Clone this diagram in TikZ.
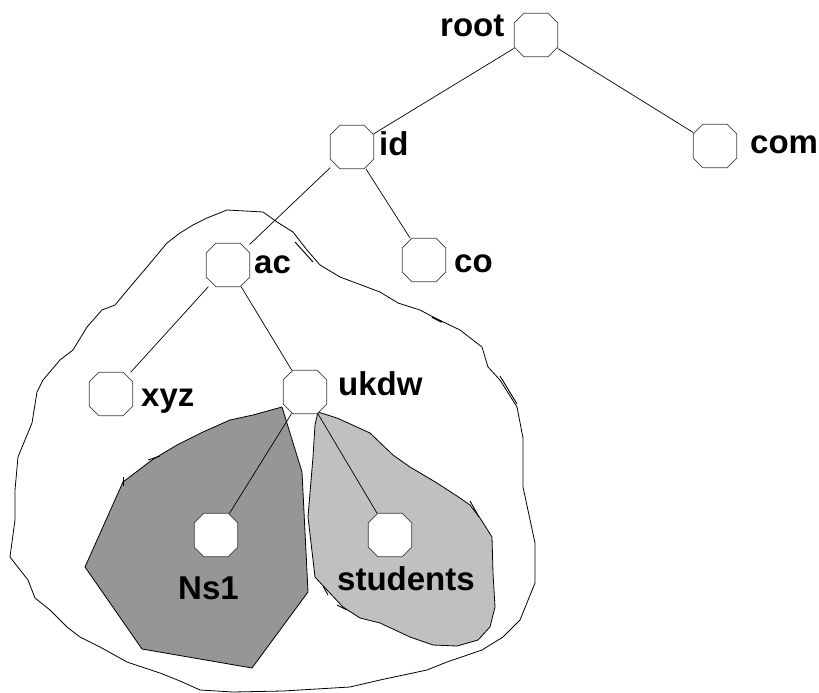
\documentclass[tikz,border=0pt]{standalone}
\usepackage{fontspec}
\setmainfont{Liberation Sans}
\begin{document}
\begin{tikzpicture}[x=1pt,y=-1pt,
  dnsnode/.style={rectangle, minimum width=43pt, minimum height=43pt,
    inner sep=0pt, draw=none},
  octline/.style={draw=black!75, line width=0.7pt, fill=white},
  lbl/.style={anchor=base west, inner sep=0pt,
    font=\fontsize{33}{36}\selectfont\bfseries},
  link/.style={draw=black, line width=0.7pt},
  zone/.style={draw=black, line width=0.8pt, line join=round},
  tick/.style={draw=black, line width=0.9pt}]
\useasboundingbox (0,0) rectangle (819,693);

% chamfered outline of a tree node
\newcommand\octo[1]{%
  \path[octline] ([xshift=9.5pt]#1.north west) -- ([xshift=-9.5pt]#1.north east)
    -- ([yshift=-9.5pt]#1.north east) -- ([yshift=9.5pt]#1.south east)
    -- ([xshift=-9.5pt]#1.south east) -- ([xshift=9.5pt]#1.south west)
    -- ([yshift=9.5pt]#1.south west) -- ([yshift=-9.5pt]#1.north west) -- cycle;}

% outer zone around ac
\draw[zone] (227,210) -- (263,212) -- (277,222) -- (293,232) -- (307,250)
  -- (320,265) -- (340,277) -- (380,292) -- (398,303) -- (420,310)
  -- (435,318) -- (460,330) -- (482,347) -- (488,367) -- (500,380)
  -- (517,407) -- (523,438) -- (523,487) -- (535,543) -- (535,583)
  -- (520,620) -- (503,637) -- (482,650) -- (447,662) -- (427,670)
  -- (380,680) -- (350,687) -- (283,691) -- (233,692) -- (200,690)
  -- (180,681) -- (160,673) -- (127,662) -- (100,647) -- (80,637)
  -- (67,627) -- (50,610) -- (35,598) -- (28,580) -- (10,557)
  -- (15,520) -- (15,490) -- (18,457) -- (32,423) -- (37,392)
  -- (43,380) -- (60,360) -- (73,350) -- (87,327) -- (102,310)
  -- (115,305) -- (130,287) -- (147,267) -- (167,243) -- (180,233)
  -- (193,225) -- (207,218) -- cycle;
% small pen strokes along the outline
\draw[tick] (295,242) -- (313,262);
\draw[tick] (500,376) -- (517,404);
\draw[tick, line width=1.6pt] (432,317) -- (442,322);

% Ns1 zone
\draw[zone, fill={rgb,255:red,150;green,150;blue,150}]
  (282,407) -- (302,472) -- (308,592) -- (252,668) -- (142,649)
  -- (85,567) -- (123,482) -- (152,460) -- (177,445) -- (203,432)
  -- (230,420) -- (253,415) -- cycle;
\draw[tick] (123,477) -- (123,486);
\draw[tick] (148,460) -- (160,456);

% students zone
\draw[zone, fill={rgb,255:red,192;green,192;blue,192}]
  (318,412) -- (337,418) -- (370,433) -- (393,455) -- (410,467)
  -- (437,483) -- (460,498) -- (470,505) -- (480,518) -- (492,537)
  -- (493,573) -- (495,607) -- (490,627) -- (478,640) -- (457,646)
  -- (433,645) -- (410,637) -- (380,623) -- (360,618) -- (343,607)
  -- (327,590) -- (315,577) -- (308,517) -- (313,457) -- (315,425) -- cycle;
\draw[tick] (470,501) -- (479,517);
\draw[tick] (323,586) -- (328,595);
\draw[tick] (337,605) -- (347,610);

% tree nodes
\node[dnsnode] (root) at (536,35) {};
\node[dnsnode] (id) at (352,147) {};
\node[dnsnode] (com) at (715,146) {};
\node[dnsnode] (ac) at (228,265) {};
\node[dnsnode] (co) at (424,260) {};
\node[dnsnode] (xyz) at (111,394) {};
\node[dnsnode] (ukdw) at (305,392) {};
\node[dnsnode] (ns1) at (216,535) {};
\node[dnsnode] (students) at (390,535) {};
\foreach \n in {root,id,com,ac,co,xyz,ukdw,ns1,students} {\octo{\n}}

% labels
\node[lbl] (lroot) at (440,37) {root};
\node[lbl] (lid) at (379,155) {id};
\node[lbl] (lcom) at (750,153) {com};
\node[lbl] (lac) at (254,273) {ac};
\node[lbl] (lco) at (454,272) {co};
\node[lbl] (lxyz) at (141,406) {xyz};
\node[lbl] (lukdw) at (338,395) {ukdw};
\node[lbl] (lns1) at (178,599) {Ns1};
\node[lbl] (lstudents) at (337,590) {students};

% links
\draw[link] (root) -- (id);
\draw[link] (root) -- (com);
\draw[link] (id) -- (ac);
\draw[link] (id) -- (co);
\draw[link] (ac) -- (xyz);
\draw[link] (ac) -- (ukdw);
\draw[link] (ukdw) -- (ns1);
\draw[link] (ukdw) -- (students);
\end{tikzpicture}
\end{document}
